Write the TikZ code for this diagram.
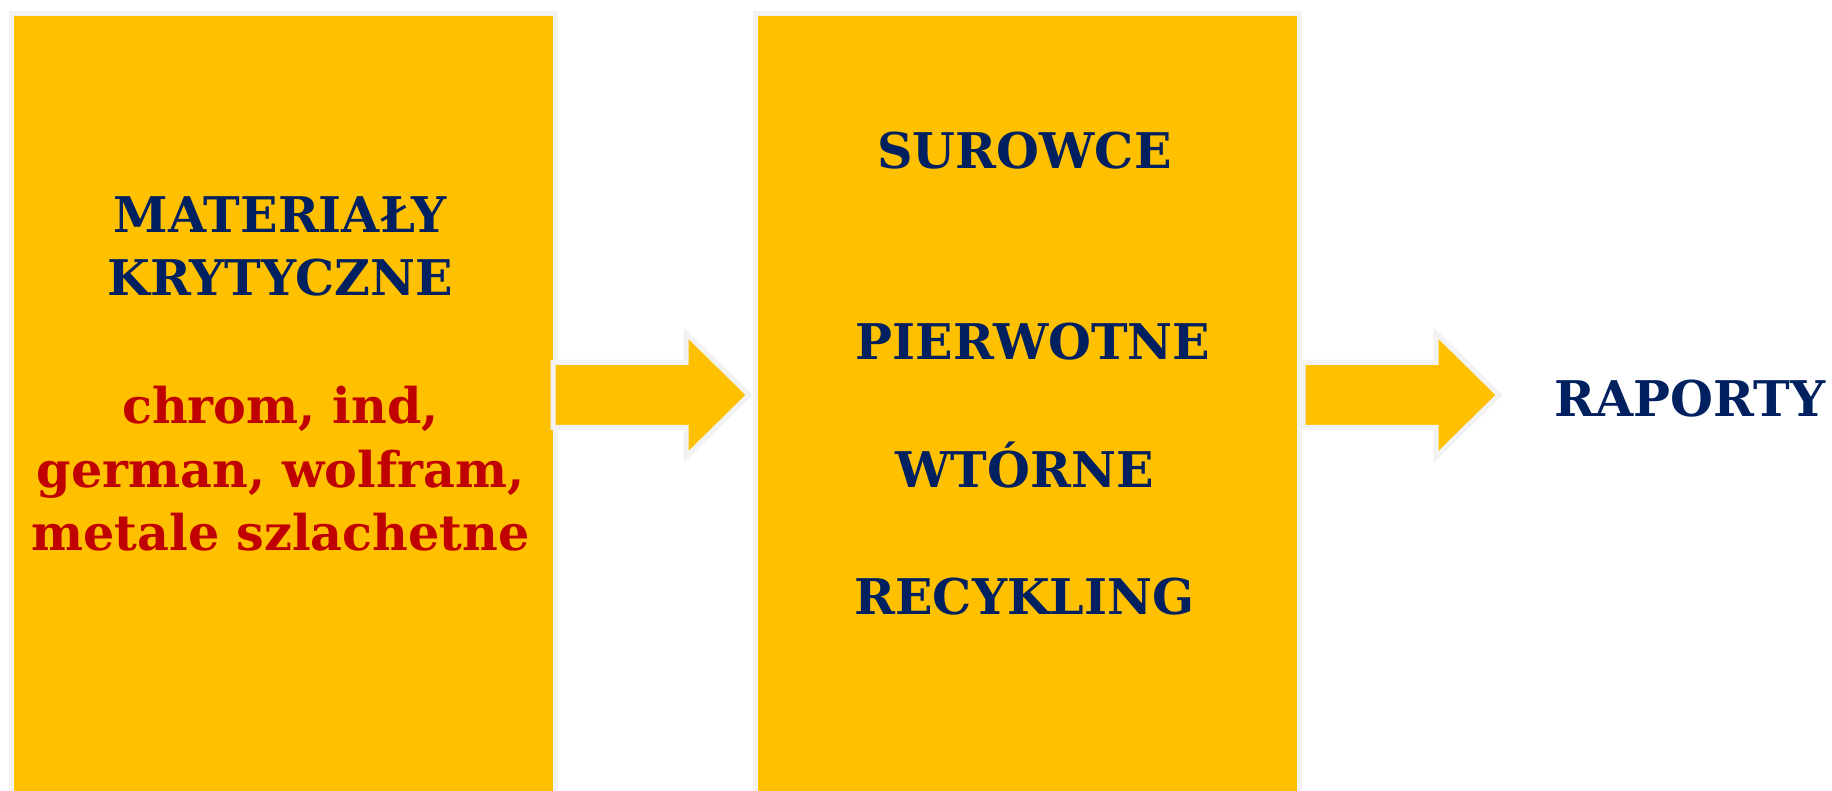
\documentclass[tikz,border=0pt]{standalone}
\usepackage{fontspec}
\setmainfont{DejaVu Serif}
\usetikzlibrary{positioning,calc}

\definecolor{boxYellow}{HTML}{FFC000}
\definecolor{textNavy}{HTML}{002060}
\definecolor{textRed}{HTML}{C00000}
\definecolor{edgeGray}{HTML}{F2F2F2}

\begin{document}
\begin{tikzpicture}[
    font=\fontsize{14}{18.15}\selectfont\bfseries,
    stageBox/.style={
        rectangle, draw=edgeGray, fill=boxYellow, line width=0.05cm,
        minimum width=5.44cm, minimum height=8.8cm, inner sep=0pt
    },
    stageText/.style={
        align=center, text=textNavy, anchor=base, inner sep=0pt
    },
    blockArrow/.style={
        draw=edgeGray, fill=boxYellow, line width=0.05cm, line join=miter
    }
]
\clip (0,0) rectangle (18.32,7.91);

% Stage boxes
\node[stageBox, anchor=north west] (matBox) at (0.085,7.795) {};
\node[stageBox, anchor=north west] (surBox) at (7.525,7.795) {};

% Box contents (anchored at the last baseline)
\node[stageText] (matText) at (2.805,2.40) {
    MATERIAŁY\\
    KRYTYCZNE\\
    ~\\
    \textcolor{textRed}{chrom, ind,}\\
    \textcolor{textRed}{german, wolfram,}\\
    \textcolor{textRed}{metale szlachetne}
};

\node[stageText] (surText) at (10.245,1.76) {
    SUROWCE\\
    ~\\
    ~\\
    ~PIERWOTNE\\
    ~\\
    WTÓRNE\\
    ~\\
    RECYKLING
};

\node[stageText] (raport) at (16.90,3.74) {RAPORTY};

% Block arrows
\coordinate (inA) at (5.53,3.96);
\coordinate (inB) at (13.03,3.96);
\foreach \c in {inA,inB}
    \draw[blockArrow] ($(\c)+(0,0.325)$) -- ++(1.33,0) -- ++(0,0.295)
        -- ++(0.63,-0.62) -- ++(-0.63,-0.62) -- ++(0,0.295) -- ++(-1.33,0) -- cycle;

\end{tikzpicture}
\end{document}
